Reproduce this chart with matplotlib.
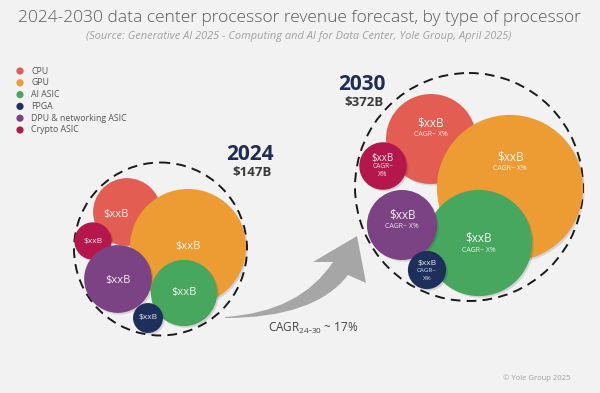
import numpy as np
import matplotlib
matplotlib.use("Agg")
import matplotlib.pyplot as plt
from matplotlib.patches import Circle, PathPatch
from matplotlib.path import Path
import matplotlib.patheffects as pe

# ---------------- data ----------------
categories = ['CPU', 'GPU', 'AI ASIC', 'FPGA', 'DPU & networking ASIC', 'Crypto ASIC']
colors = ['#e35d52', '#ec9c33', '#47a75e', '#1f2f5c', '#7b4383', '#b3174c']
years = ['2024', '2030']
totals = ['$147B', '$372B']
rev_2024 = [23, 67.5, 22, 4.5, 23, 7]      # ($B)
rev_2030 = [61, 161, 85, 11, 37, 17]       # ($B)
value_label = '$xxB'
cagr_label = 'CAGR~ X%'
overall_cagr = '17%'

# ---------------- layout (pixel space) ----------------
W, H = 600, 393
fig = plt.figure(figsize=(6, 3.93), dpi=100, facecolor='#f2f2f2')
ax = fig.add_axes([0, 0, 1, 1])
ax.set_xlim(0, W)
ax.set_ylim(H, 0)
ax.axis('off')
ax.set_facecolor('#f2f2f2')

FONT = ['Open Sans', 'DejaVu Sans']
plt.rcParams['font.family'] = FONT

renderer = fig.canvas.get_renderer()

def fit(t, width_px):
    bb = t.get_window_extent(renderer)
    t.set_fontsize(t.get_fontsize() * width_px / bb.width)
    return t

# bubble layout: centers, draw order, label offsets
k = {'2024': 7.062, '2030': 5.760}  # px per sqrt($B)
centers = {
    '2024': [(127, 212), (188, 247), (184, 293), (148, 318), (118, 279), (93, 241)],
    '2030': [(431, 139), (510, 188), (479, 243), (427, 270), (402, 225), (383, 166)],
}
order = {'2024': [0, 1, 5, 4, 2, 3], '2030': [0, 1, 2, 5, 4, 3]}
outer = {'2024': ((160.5, 249), 86.5), '2030': ((469, 187), 114)}

# 2024 label offsets and sizes
lab24 = [(-11, 2, 8), (0, 0, 8), (0, 0, 8), (0, 0, 6), (0, 1, 8), (0, 0, 6)]
# 2030 label: (dy value, dy cagr, value size, cagr size, split?)
lab30 = [(-16, -5, 8.5, 5, False), (-31, -19, 8.5, 5, False), (-5, 7, 8.5, 5, False),
         (-7, 1, 6, 4.5, True), (-10, 2, 8.5, 5, False), (-8, 1, 7, 4.8, True)]

shadow = [pe.SimplePatchShadow(offset=(1.2, -1.2), shadow_rgbFace='#000000', alpha=0.12), pe.Normal()]

for y, vals in zip(years, [rev_2024, rev_2030]):
    (ocx, ocy), orad = outer[y]
    ax.add_patch(Circle((ocx, ocy), orad, fill=False, ec='#1a1a1a', lw=1.4,
                        ls=(0, (5, 3.2)), zorder=1))
    for z, i in enumerate(order[y]):
        cx, cy = centers[y][i]
        r = k[y] * np.sqrt(vals[i])
        c = Circle((cx, cy), r, fc=colors[i], ec='none', zorder=2 + z)
        c.set_path_effects(shadow)
        ax.add_patch(c)
        tz = 20 + z
        if y == '2024':
            dx, dy, fs = lab24[i]
            ax.text(cx + dx, cy + dy, value_label, color='white', alpha=0.9, fontsize=fs,
                    ha='center', va='center', zorder=tz)
        else:
            dv, dc, fsv, fsc, split = lab30[i]
            ax.text(cx, cy + dv, value_label, color='white', alpha=0.9, fontsize=fsv,
                    ha='center', va='center', zorder=tz)
            if split:
                p1, p2 = cagr_label.split(' ')
                ax.text(cx, cy + dc, p1, color='white', alpha=0.85, fontsize=fsc,
                        ha='center', va='center', zorder=tz)
                ax.text(cx, cy + dc + 8, p2, color='white', alpha=0.85, fontsize=fsc,
                        ha='center', va='center', zorder=tz)
            else:
                ax.text(cx, cy + dc, cagr_label, color='white', alpha=0.85, fontsize=fsc,
                        ha='center', va='center', zorder=tz)

# year headings
ax.text(250, 154, years[0], color='#1f2d55', fontsize=15, fontweight='bold',
        ha='center', va='center')
ax.text(252, 173, totals[0], color='#3a3a3a', fontsize=9.5, fontweight='bold',
        ha='center', va='center')
ax.text(362, 85, years[1], color='#1f2d55', fontsize=15, fontweight='bold',
        ha='center', va='center')
ax.text(364, 103, totals[1], color='#3a3a3a', fontsize=9.5, fontweight='bold',
        ha='center', va='center')

# growth arrow
verts = [(225, 317), (300, 312), (333, 262), (313, 262), (357, 236), (366, 283),
         (348, 275), (315, 318), (225, 318), (225, 317)]
codes = [Path.MOVETO, Path.CURVE3, Path.CURVE3, Path.LINETO, Path.LINETO, Path.LINETO,
         Path.LINETO, Path.CURVE3, Path.CURVE3, Path.CLOSEPOLY]
ax.add_patch(PathPatch(Path(verts, codes), fc='#a6a6a6', ec='none', zorder=1))
ax.text(268, 328, r'CAGR$_{\mathregular{24\text{-}30}}$ ~ ' + overall_cagr, color='#444444',
        fontsize=8.5, ha='left', va='center')

# legend
for j, (cat, col) in enumerate(zip(categories, colors)):
    yy = 71 + j * 11.8
    ax.add_patch(Circle((20, yy), 3.6, fc=col, ec='none'))
    ax.text(31, yy, cat, color='#555555', fontsize=6.3, ha='left', va='center')

# title
t = ax.text(299, 18, '2024-2030 data center processor revenue forecast, by type of processor',
            color='#5a5a5a', fontsize=14, ha='center', va='center', fontweight='light')
fit(t, 568)
s = ax.text(299, 36, '(Source: Generative AI 2025 - Computing and AI for Data Center, Yole Group, April 2025)',
            color='#a0a0a0', fontsize=7, ha='center', va='center', style='italic')
fit(s, 428)
ax.text(537, 378, '© Yole Group 2025', color='#a0a0a0', fontsize=5.5, ha='center', va='center')

fig.savefig('out.png', dpi=100, facecolor=fig.get_facecolor())
